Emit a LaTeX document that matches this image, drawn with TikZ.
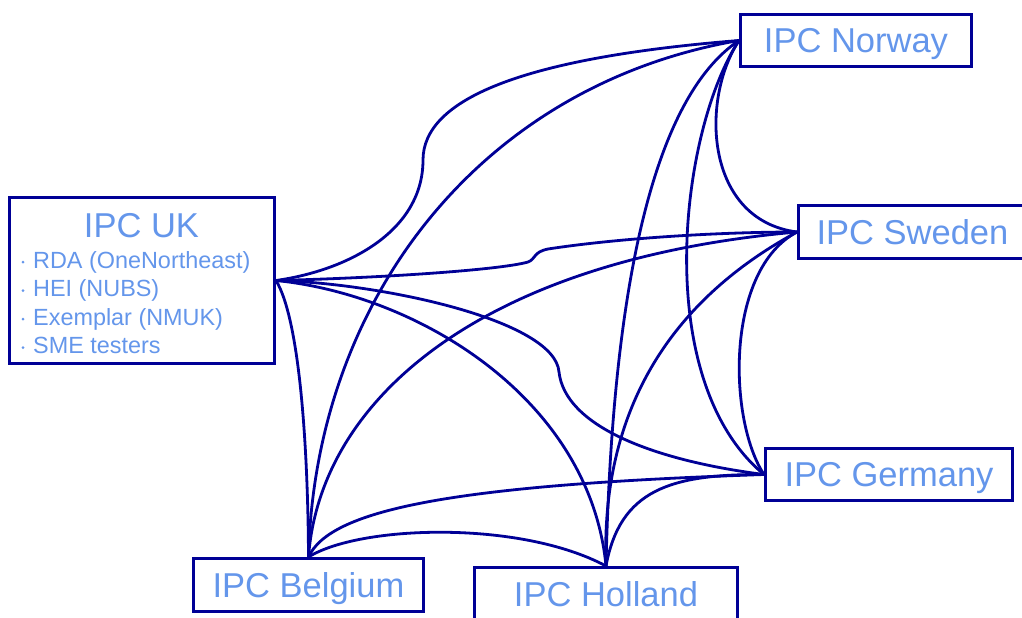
\documentclass[tikz,border=0pt]{standalone}
\usepackage{fontspec}
\setmainfont{Liberation Sans}
\definecolor{linkblue}{RGB}{0,0,150}
\definecolor{textblue}{RGB}{100,150,235}
\begin{document}
\begin{tikzpicture}[x=1pt,y=-1pt,
  box/.style={draw=linkblue, line width=3pt, fill=white, inner sep=0pt,
    text=textblue, font=\fontsize{34.5}{40}\selectfont,
    text height=24.7pt, text depth=0pt},
  link/.style={draw=linkblue, line width=2.8pt, line cap=round},
  item/.style={anchor=base west, inner sep=0pt, text=textblue,
    font=\fontsize{23.4}{28}\selectfont},
  bullet/.style={fill=textblue, circle, inner sep=0pt, minimum size=3pt}]
\useasboundingbox (0,0) rectangle (1022,618);

% partner boxes
\node[box, minimum width=265pt, minimum height=166pt] (uk) at (142,280.5) {};
\node[anchor=base, inner sep=0pt, text=textblue, font=\fontsize{34.5}{40}\selectfont]
  (ukt) at (141.5,237) {IPC UK};
\node[bullet] (b1) at (23,262) {};
\node[item] (i1) at (33,268) {RDA (OneNortheast)};
\node[bullet] (b2) at (23,290.5) {};
\node[item] (i2) at (33,296.5) {HEI (NUBS)};
\node[bullet] (b3) at (23,319) {};
\node[item] (i3) at (33,325) {Exemplar (NMUK)};
\node[bullet] (b4) at (23,347.5) {};
\node[item] (i4) at (33,353.5) {SME testers};

\node[box, minimum width=231pt, minimum height=52pt] (nor) at (856,40.5) {IPC Norway};
\node[box, minimum width=228pt, minimum height=53pt] (swe) at (912.5,232) {IPC Sweden};
\node[box, minimum width=247pt, minimum height=52pt] (ger) at (889,474.5) {IPC Germany};
\node[box, minimum width=230pt, minimum height=53pt] (bel) at (308.5,585) {IPC Belgium};
\node[box, minimum width=263pt, minimum height=54pt] (hol) at (606,594.5) {IPC Holland};

% links from the UK
\draw[link] (uk.east) .. controls (350,270) and (423,230) .. (423,160)
  .. controls (423,100) and (520,58) .. (nor.west);
\draw[link] (uk.east) .. controls (380,278) and (500,270) .. (528,262)
  .. controls (536,259) and (533,252) .. (548,249)
  .. controls (620,238) and (720,232) .. (swe.west);
\draw[link] (uk.east) .. controls (380,283) and (555,320) .. (559,372)
  .. controls (565,425) and (650,460) .. (ger.west);
\draw[link] (uk.east) .. controls (420,295) and (590,400) .. (hol.north);
\draw[link] (uk.east) .. controls (300,320) and (308,450) .. (bel.north);

% links from Belgium
\draw[link] (bel.north) .. controls (315,300) and (480,85) .. (nor.west);
\draw[link] (bel.north) .. controls (320,400) and (480,260) .. (swe.west);
\draw[link] (bel.north) .. controls (330,510) and (450,485) .. (ger.west);
\draw[link] (bel.north) .. controls (360,525) and (520,520) .. (hol.north);

% links from Norway
\draw[link] (nor.west) .. controls (650,100) and (612,300) .. (hol.north);
\draw[link] (nor.west) .. controls (680,130) and (650,380) .. (ger.west);
\draw[link] (nor.west) .. controls (700,100) and (705,220) .. (swe.west);

% links from Sweden and Holland
\draw[link] (swe.west) .. controls (690,290) and (600,390) .. (hol.north);
\draw[link] (swe.west) .. controls (725,270) and (728,420) .. (ger.west);
\draw[link] (hol.north) .. controls (620,490) and (670,474) .. (ger.west);
\end{tikzpicture}
\end{document}
